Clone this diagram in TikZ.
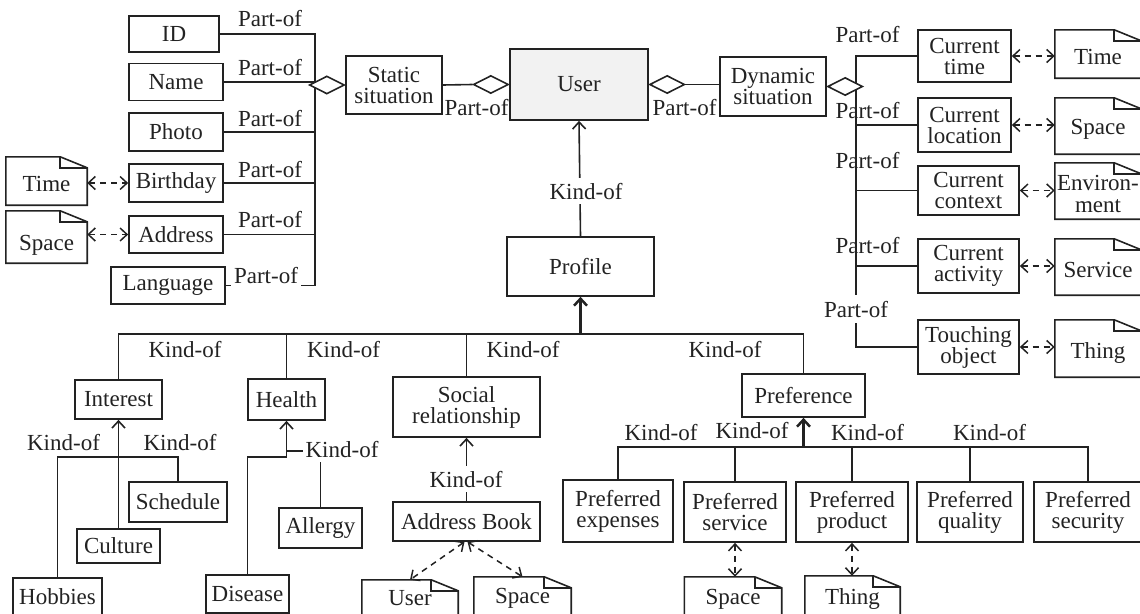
\documentclass[tikz,border=0pt]{standalone}
\usepackage{fontspec}
\setmainfont{Liberation Serif}
\usetikzlibrary{arrows.meta,shapes.geometric}
\definecolor{ink}{HTML}{222222}
\definecolor{userfill}{HTML}{F2F2F2}
\pgfdeclarelayer{wires}
\pgfsetlayers{wires,main}
% lower a text inside its box without changing the box size
\newcommand\dropby[2]{\raisebox{-#1}[\height][\depth]{#2}}
% outline of a note with a folded top-right corner
\newcommand\foldnote[1]{%
  \draw[draw=ink, line width=1.6pt, line join=miter]
    (#1.north west) -- ([xshift=-27pt]#1.north east) -- ([yshift=-11pt]#1.north east)
    -- (#1.south east) -- (#1.south west) -- cycle;
  \draw[draw=ink, line width=1.6pt]
    ([xshift=-27pt]#1.north east) |- ([yshift=-11pt]#1.north east);}

\begin{document}
\begin{tikzpicture}[x=1pt,y=-1pt,
  >={Straight Barb[length=7pt,width=13pt]},
  every node/.style={font=\fontsize{23}{21}\selectfont, text=ink},
  box/.style={draw=ink, line width=1.7pt, inner sep=0pt, align=center},
  notebox/.style={inner sep=0pt, align=center},
  link/.style={draw=ink, line width=1.6pt},
  heavy/.style={draw=ink, line width=2.5pt},
  dashlink/.style={draw=ink, line width=1.5pt, dash pattern=on 6pt off 5pt, <->},
  kindarrow/.style={->},
  agg/.style={diamond, draw=ink, fill=white, line width=1.6pt, inner sep=0pt,
              minimum width=35pt, minimum height=18pt},
  lbl/.style={inner sep=0pt, anchor=base},
  cut/.style={fill=white, inner xsep=3pt, inner ysep=5pt, anchor=base},
]
\useasboundingbox (0,0) rectangle (1140,613);
\clip (0,0) rectangle (1140,613);

% ---------- attributes of the static situation ----------
\node[box, minimum width=90pt,  minimum height=36pt] (id)    at (174,34)    {ID};
\node[box, minimum width=94pt,  minimum height=37pt] (name)  at (176,82)    {Name};
\node[box, minimum width=94pt,  minimum height=38pt] (photo) at (176,132)   {Photo};
\node[box, minimum width=94pt,  minimum height=38pt] (birth) at (176,183)   {Birthday};
\node[box, minimum width=94pt,  minimum height=37pt] (addr)  at (176,234.5) {Address};
\node[box, minimum width=114pt, minimum height=37pt] (lang)  at (168,285.5) {Language};
\node[notebox, minimum width=81pt, minimum height=48pt] (timeL)  at (46.5,181) {\dropby{3pt}{Time}};
\node[notebox, minimum width=81pt, minimum height=52pt] (spaceL) at (46.5,237) {\dropby{8pt}{Space}};
\foldnote{timeL}
\foldnote{spaceL}

% ---------- situations and user ----------
\node[box, minimum width=96pt, minimum height=58pt] (static) at (394,85) {Static\\situation};
\node[box, fill=userfill, minimum width=138pt, minimum height=71pt] (user) at (579,84.5) {User};
\node[box, minimum width=106pt, minimum height=59pt] (dynamic) at (773,86.5) {Dynamic\\situation};
\node[agg, anchor=east] (dL)  at (static.west) {};
\node[agg, anchor=east] (dSU) at (user.west) {};
\node[agg, anchor=west] (dUD) at (user.east) {};
\node[agg, anchor=west] (dD)  at (dynamic.east) {};

% ---------- parts of the dynamic situation ----------
\node[box, minimum width=93pt,  minimum height=52pt] (ctime)  at (964.5,56)  {Current\\time};
\node[box, minimum width=93pt,  minimum height=54pt] (cloc)   at (964.5,125) {Current\\location};
\node[box, minimum width=101pt, minimum height=49pt] (cctx)   at (968.5,190.5) {Current\\context};
\node[box, minimum width=101pt, minimum height=54pt] (cact)   at (968.5,266) {Current\\activity};
\node[box, minimum width=101pt, minimum height=54pt] (ctouch) at (968.5,347) {Touching\\object};
\node[notebox, minimum width=86pt, minimum height=48pt] (timeR)  at (1098,54)  {\dropby{3pt}{Time}};
\node[notebox, minimum width=86pt, minimum height=56pt] (spaceR) at (1098,126) {\dropby{3pt}{Space}};
\node[notebox, minimum width=86pt, minimum height=56pt] (envR)   at (1098,191)
  {\dropby{6pt}{\begin{tabular}{@{}c@{}}Environ-\\[1pt]ment\end{tabular}}};
\node[notebox, minimum width=86pt, minimum height=56pt] (servR)  at (1098,267) {\dropby{3pt}{Service}};
\node[notebox, minimum width=86pt, minimum height=57pt] (thingR) at (1098,348.5) {\dropby{4pt}{Thing}};
\foldnote{timeR}
\foldnote{spaceR}
\foldnote{envR}
\foldnote{servR}
\foldnote{thingR}

% ---------- profile and its kinds ----------
\node[box, minimum width=147pt, minimum height=59pt] (profile)  at (580.5,266.5) {Profile};
\node[box, minimum width=87pt,  minimum height=39pt] (interest) at (118.5,399.5) {Interest};
\node[box, minimum width=77pt,  minimum height=41pt] (health)   at (286.5,399.5) {Health};
\node[box, minimum width=147pt, minimum height=60pt] (social)   at (466.5,407)   {Social\\relationship};
\node[box, minimum width=123pt, minimum height=43pt] (pref)     at (803.5,395.5) {Preference};

\node[box, minimum width=98pt, minimum height=40pt] (sched)   at (178,502)   {Schedule};
\node[box, minimum width=83pt, minimum height=34pt] (culture) at (118.5,546) {Culture};
\node[box, minimum width=89pt, minimum height=38pt] (hobbies) at (57.5,597)  {Hobbies};
\node[box, minimum width=83pt, minimum height=40pt] (allergy) at (320.5,528) {Allergy};
\node[box, minimum width=83pt, minimum height=38pt] (disease) at (247.5,594) {Disease};

\node[box, minimum width=147pt, minimum height=39pt] (abook) at (466.5,521.5) {Address Book};
\node[notebox, minimum width=96pt, minimum height=36pt] (userN)  at (410,598)   {User};
\node[notebox, minimum width=97pt, minimum height=42pt] (spaceB) at (522.5,598) {Space};
\foldnote{userN}
\foldnote{spaceB}

\node[box, minimum width=110pt, minimum height=62pt] (pexp)  at (618,511)  {Preferred\\expenses};
\node[box, minimum width=102pt, minimum height=60pt] (pserv) at (735,512)  {Preferred\\service};
\node[box, minimum width=112pt, minimum height=60pt] (pprod) at (852,512)  {Preferred\\product};
\node[box, minimum width=106pt, minimum height=60pt] (pqual) at (970,512)  {Preferred\\quality};
\node[box, minimum width=108pt, minimum height=60pt] (psec)  at (1088,512) {Preferred\\security};
\node[notebox, minimum width=97pt, minimum height=44pt] (spaceP) at (733,599)    {Space};
\node[notebox, minimum width=95pt, minimum height=45pt] (thingP) at (852.5,598.5) {Thing};
\foldnote{spaceP}
\foldnote{thingP}

% ---------- junction points ----------
\coordinate (ltrunk) at (315,34);
\coordinate (rtrunk) at (856,56);
\coordinate (pbus)   at (580.5,334);
\coordinate (ibus)   at (118.5,457);
\coordinate (hbus)   at (286.5,457);
\coordinate (hkind)  at (286.5,451);
\coordinate (fbus)   at (803.5,447);

% ---------- connectors ----------
\begin{pgfonlayer}{wires}
  % static situation: part-of tree
  \draw[link] (id.east) -- (id.east -| ltrunk) -- (lang.east -| ltrunk) -- (lang.east);
  \draw[link] (name.east)  -- (name.east -| ltrunk);
  \draw[link] (photo.east) -- (photo.east -| ltrunk);
  \draw[link] (birth.east) -- (birth.east -| ltrunk);
  \draw[link] (addr.east)  -- (addr.east -| ltrunk);
  \draw[heavy] (name.east -| ltrunk) -- (addr.east -| ltrunk);
  \draw[dashlink] (birth.west -| timeL.east) -- (birth.west);
  \draw[dashlink] (addr.west -| spaceL.east) -- (addr.west);

  % user aggregation
  \draw[link] (static.east) -- (dSU.west);
  \draw[link] (dUD.east) -- (dUD.east -| dynamic.west);

  % dynamic situation: part-of tree
  \draw[link] (ctime.west) -- (ctime.west -| rtrunk) -- (ctouch.west -| rtrunk) -- (ctouch.west);
  \draw[link] (cloc.west) -- (cloc.west -| rtrunk);
  \draw[link] (cctx.west) -- (cctx.west -| rtrunk);
  \draw[link] (cact.west) -- (cact.west -| rtrunk);
  \draw[heavy] (dD.south -| rtrunk) -- (cact.north -| rtrunk);
  \draw[dashlink] (ctime.east)  -- (ctime.east -| timeR.west);
  \draw[dashlink] (cloc.east)   -- (cloc.east -| spaceR.west);
  \draw[dashlink] (cctx.east)   -- (cctx.east -| envR.west);
  \draw[dashlink] (cact.east)   -- (cact.east -| servR.west);
  \draw[dashlink] (ctouch.east) -- (ctouch.east -| thingR.west);

  % profile is a kind of user
  \draw[link, kindarrow] (profile.north) -- (user.south);

  % kinds of profile
  \draw[link] (interest.north) |- (pbus) -| (pref.north);
  \draw[link] (health.north) -- (health.north |- pbus);
  \draw[link] (social.north) -- (social.north |- pbus);
  \draw[heavy] (health.north |- pbus) -- (pbus);
  \draw[heavy, kindarrow] (pbus) -- (profile.south);

  % kinds of interest
  \draw[link] (hobbies.north) |- (sched.north |- ibus) -- (sched.north);
  \draw[link, kindarrow] (culture.north) -- (interest.south);

  % kinds of health
  \draw[link, kindarrow] (disease.north) |- (hbus) -- (health.south);
  \draw[link] (allergy.north) |- (hkind);

  % social relationship
  \draw[link, kindarrow] (abook.north) -- (social.south);
  \draw[dashlink] ([xshift=-2pt]abook.south) -- (userN.north);
  \draw[dashlink] ([xshift=1pt]abook.south) -- (spaceB.north);

  % kinds of preference
  \draw[link] (pexp.north) |- (fbus) -| (psec.north);
  \draw[link] (pserv.north) -- (pserv.north |- fbus);
  \draw[link] (pprod.north) -- (pprod.north |- fbus);
  \draw[link] (pqual.north) -- (pqual.north |- fbus);
  \draw[heavy, kindarrow] (fbus) -- (pref.south);
  \draw[dashlink] (pserv.south) -- (pserv.south |- spaceP.north);
  \draw[dashlink] (pprod.south) -- (pprod.south |- thingP.north);
\end{pgfonlayer}

% ---------- relation labels ----------
\node[lbl] (pl1) at (270,26)  {Part-of};
\node[lbl] (pl2) at (270,75)  {Part-of};
\node[lbl] (pl3) at (270,126) {Part-of};
\node[lbl] (pl4) at (270,177) {Part-of};
\node[lbl] (pl5) at (270,227) {Part-of};
\node[cut] (pl6) at (266,283) {Part-of};
\node[lbl] (pu1) at (476.5,115) {Part-of};
\node[lbl] (pu2) at (684.5,115) {Part-of};
\node[lbl] (pr1) at (867.5,42)  {Part-of};
\node[lbl] (pr2) at (867.5,118) {Part-of};
\node[lbl] (pr3) at (867.5,168) {Part-of};
\node[lbl] (pr4) at (867.5,253) {Part-of};
\node[cut, inner ysep=6pt] (pr5) at (856,317) {Part-of};

\node[cut] (k0) at (586,199) {Kind-of};
\node[lbl] (k1) at (185,357)   {Kind-of};
\node[lbl] (k2) at (343.5,357) {Kind-of};
\node[lbl] (k3) at (523,357)   {Kind-of};
\node[lbl] (k4) at (725,357)   {Kind-of};
\node[lbl] (k5) at (63.5,450)  {Kind-of};
\node[lbl] (k6) at (180,450)   {Kind-of};
\node[cut] (k7) at (342,457)   {Kind-of};
\node[cut] (k8) at (466,487)   {Kind-of};
\node[lbl] (k9)  at (661,440)   {Kind-of};
\node[lbl] (k10) at (752,438)   {Kind-of};
\node[lbl] (k11) at (867.5,440) {Kind-of};
\node[lbl] (k12) at (989.5,440) {Kind-of};
\end{tikzpicture}
\end{document}
